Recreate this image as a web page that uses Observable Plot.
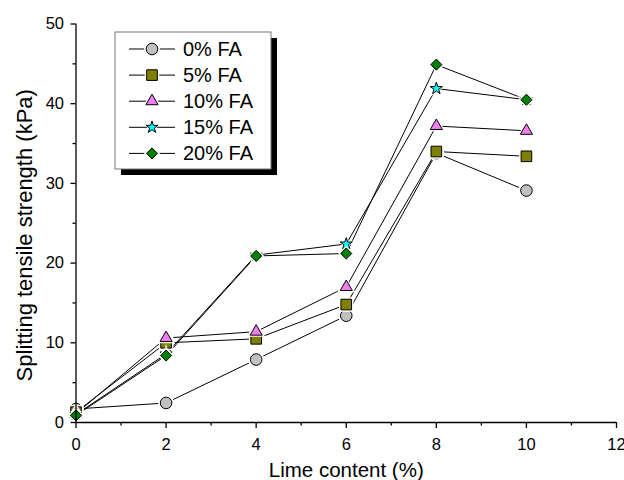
<!DOCTYPE html>
<html>
<head>
<meta charset="utf-8">
<script src="https://cdn.jsdelivr.net/npm/d3@7"></script>
<script src="https://cdn.jsdelivr.net/npm/@observablehq/plot@0.6"></script>
<style>
  html, body { margin: 0; padding: 0; background: #fff; }
  #wrap { position: relative; width: 624px; height: 480px; font-family: Arial, "Liberation Sans", sans-serif; }
  #legend { position: absolute; left: 0; top: 0; pointer-events: none; }
</style>
</head>
<body>
<div id="wrap"></div>
<script>
// ---- data ----
const lime = [0, 2, 4, 6, 8, 10];
const seriesNames = ["0% FA", "5% FA", "10% FA", "15% FA", "20% FA"];
const fa0  = [1.7, 2.45, 7.9, 13.4, 33.8, 29.1];
const fa5  = [1.3, 10.0, 10.5, 14.8, 34.0, 33.4];
const fa10 = [1.1, 10.6, 11.4, 17.0, 37.2, 36.6];
const fa15 = [1.0, 8.6, 21.0, 22.4, 41.9, 40.5];
const fa20 = [0.9, 8.4, 20.9, 21.2, 44.9, 40.5];
const seriesValues = [fa0, fa5, fa10, fa15, fa20];
const seriesColors = ["#c0c0c0", "#808000", "#f07ef0", "#00ffff", "#008000"];
const seriesSymbols = ["circle", "square", "triangle", "star", "diamond2"];
const seriesR = [5.8, 6.0, 4.5, 3.8, 5.0];
const xMajor = [0, 2, 4, 6, 8, 10, 12];
const xMinor = [1, 3, 5, 7, 9, 11];
const yMajor = [0, 10, 20, 30, 40, 50];
const yMinor = [5, 15, 25, 35, 45];
const xTitle = "Lime content (%)";
const yTitle = "Splitting tensile strength (kPa)";

const rows = seriesNames.flatMap((s, i) =>
  lime.map((x, j) => ({series: s, idx: i, x, y: seriesValues[i][j]})));

const font = 'Arial, "Liberation Sans", sans-serif';

const dotMarks = seriesNames.flatMap((s, i) => {
  const d = rows.filter(r => r.idx === i);
  return [
    Plot.dot(d, {x: "x", y: "y", symbol: () => seriesSymbols[i], r: seriesR[i] + 2.2, fill: "white", stroke: "none"}),
    Plot.dot(d, {x: "x", y: "y", symbol: () => seriesSymbols[i], r: seriesR[i], fill: seriesColors[i], stroke: "black", strokeWidth: 1})
  ];
});

const chart = Plot.plot({
  width: 624,
  height: 480,
  marginLeft: 75.5,
  marginRight: 8,
  marginTop: 23.5,
  marginBottom: 58,
  style: {fontFamily: font, background: "white", color: "black", overflow: "visible"},
  x: {domain: [0, 12]},
  y: {domain: [0, 50]},
  symbol: {type: "identity"},
  marks: [
    Plot.line(rows, {x: "x", y: "y", z: "series", stroke: "black", strokeWidth: 1}),
    ...dotMarks,
    Plot.ruleY([0], {stroke: "black", strokeWidth: 1.3}),
    Plot.ruleX([0], {stroke: "black", strokeWidth: 1.3}),
    Plot.axisX({ticks: xMajor, tickSize: 6, tickPadding: 10, fontSize: 16.5, label: null, strokeWidth: 1.3, tickFormat: d => String(d)}),
    Plot.axisX({ticks: xMinor, tickSize: 3.5, text: null, label: null, strokeWidth: 1.3}),
    Plot.axisY({ticks: yMajor, tickSize: 5, tickPadding: 7, fontSize: 16.5, label: null, strokeWidth: 1.3, tickFormat: d => String(d)}),
    Plot.axisY({ticks: yMinor, tickSize: 3, text: null, label: null, strokeWidth: 1.3}),
    Plot.text([xTitle], {frameAnchor: "bottom", lineAnchor: "bottom", dy: 54, fontSize: 20.5, fill: "black"}),
    Plot.text([yTitle], {frameAnchor: "left", textAnchor: "middle", dx: -51.5, dy: 12, rotate: -90, fontSize: 22, fill: "black"})
  ]
});

const wrap = document.getElementById("wrap");
wrap.appendChild(chart);

// ---- legend ----
const lg = d3.select(wrap).append("svg")
  .attr("id", "legend").attr("width", 624).attr("height", 480);
const bx = 115, by = 32, bw = 156, bh = 137, sh = 6;
lg.append("rect").attr("x", bx + sh).attr("y", by + sh).attr("width", bw).attr("height", bh).attr("fill", "black");
lg.append("rect").attr("x", bx).attr("y", by).attr("width", bw).attr("height", bh)
  .attr("fill", "white").attr("stroke", "#777").attr("stroke-width", 1);
const symMap = {circle: d3.symbolCircle, square: d3.symbolSquare, triangle: d3.symbolTriangle, star: d3.symbolStar, diamond2: d3.symbolDiamond2};
seriesNames.forEach((s, i) => {
  const cy = by + 17 + i * 26.1;
  const g = lg.append("g");
  g.append("line").attr("x1", bx + 14).attr("x2", bx + 60).attr("y1", cy).attr("y2", cy)
    .attr("stroke", "black").attr("stroke-width", 1);
  const r = seriesR[i];
  g.append("path").attr("transform", `translate(${bx + 37},${cy})`)
    .attr("d", d3.symbol(symMap[seriesSymbols[i]], Math.PI * (r + 2.2) * (r + 2.2))())
    .attr("fill", "white");
  g.append("path").attr("transform", `translate(${bx + 37},${cy})`)
    .attr("d", d3.symbol(symMap[seriesSymbols[i]], Math.PI * r * r)())
    .attr("fill", seriesColors[i]).attr("stroke", "black").attr("stroke-width", 1);
  g.append("text").attr("x", bx + 68).attr("y", cy + 7)
    .attr("font-family", font).attr("font-size", 20).attr("fill", "black").text(s);
});
</script>
</body>
</html>
